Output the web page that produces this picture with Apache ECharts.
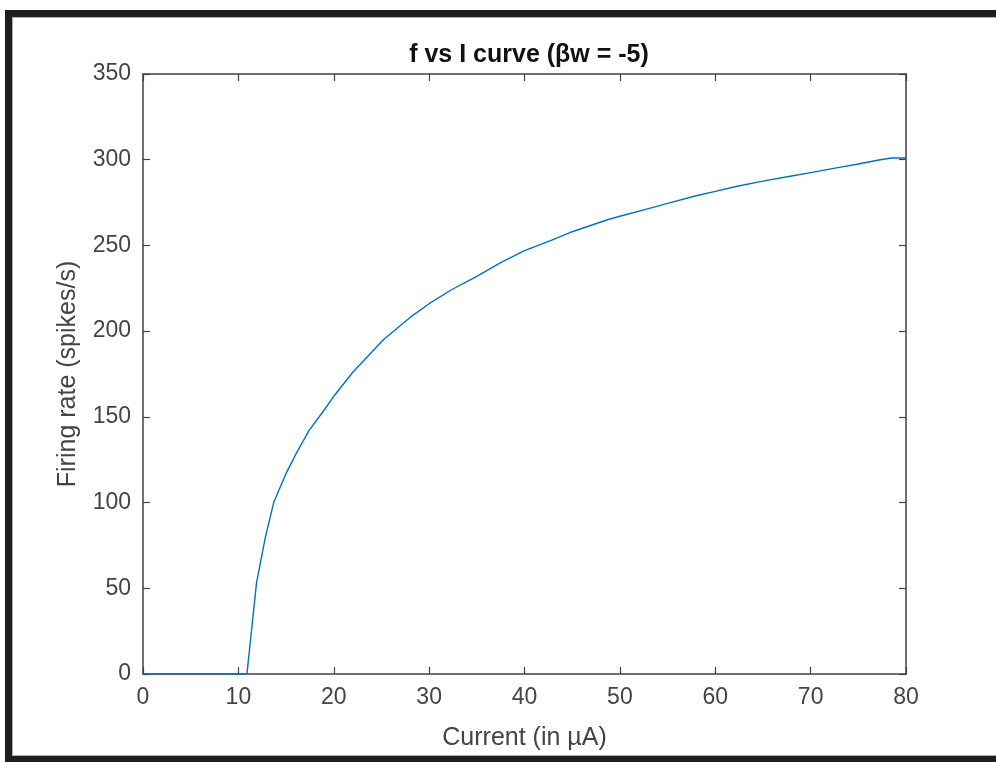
<!DOCTYPE html>
<html>
<head>
<meta charset="utf-8">
<script src="https://cdn.jsdelivr.net/npm/echarts@6/dist/echarts.min.js"></script>
<style>
html,body{margin:0;padding:0;background:#fff;}
#chart{width:996px;height:762px;}
</style>
</head>
<body>
<div id="chart"></div>
<script>
// Data
const currents = [0, 10.9, 11.9, 12.8, 13.7, 15, 16, 17.4, 19, 20, 22, 25.2, 28, 30, 32.3, 35, 37.5, 40, 42.8, 45, 48.7, 50, 53, 55, 58, 60, 62.3, 65, 68, 70, 73, 75, 77.3, 78.5, 80];
const rates    = [0, 0, 53, 79, 100, 117, 128, 142, 154, 162, 176, 195, 208, 216, 224, 232, 240, 247, 253, 258, 265, 267, 271.5, 274.5, 279, 281.5, 284.5, 287.5, 290.5, 292.5, 295.5, 297.5, 300, 301, 301];
const xTicks = [0, 10, 20, 30, 40, 50, 60, 70, 80];
const yTicks = [0, 50, 100, 150, 200, 250, 300, 350];
const titleText = 'f vs I curve (βw = -5)';
const xName = 'Current (in µA)';
const yName = 'Firing rate (spikes/s)';

const FONT = '"Liberation Sans", Arial, Helvetica, sans-serif';
const AXIS_COLOR = '#404040';
const LABEL_COLOR = '#444444';

const chart = echarts.init(document.getElementById('chart'), null, {renderer: 'canvas'});

const baseAxisLine = {show: true, onZero: false, lineStyle: {color: AXIS_COLOR, width: 1.5}};
const tick = {show: true, inside: true, length: 7, lineStyle: {color: AXIS_COLOR, width: 1.2}};

const option = {
  backgroundColor: '#ffffff',
  animation: false,
  title: {
    text: titleText,
    left: 524, top: 38, textAlign: 'center',
    textStyle: {fontFamily: FONT, fontSize: 25, fontWeight: 'bold', color: '#111111'}
  },
  grid: {left: 143, right: 90, top: 74, bottom: 88, containLabel: false},
  xAxis: [
    {
      type: 'value', min: xTicks[0], max: xTicks[xTicks.length - 1], interval: 10,
      position: 'bottom',
      name: xName, nameLocation: 'middle', nameGap: 52,
      nameTextStyle: {fontFamily: FONT, fontSize: 25, color: LABEL_COLOR},
      axisLine: baseAxisLine, axisTick: tick, splitLine: {show: false},
      axisLabel: {fontFamily: FONT, fontSize: 23, color: LABEL_COLOR, margin: 12}
    },
    {
      type: 'value', min: xTicks[0], max: xTicks[xTicks.length - 1], interval: 10,
      position: 'top',
      axisLine: baseAxisLine, axisTick: tick, splitLine: {show: false},
      axisLabel: {show: false}
    }
  ],
  yAxis: [
    {
      type: 'value', min: yTicks[0], max: yTicks[yTicks.length - 1], interval: 50,
      position: 'left',
      name: yName, nameLocation: 'middle', nameGap: 62, nameRotate: 90,
      nameTextStyle: {fontFamily: FONT, fontSize: 25, color: LABEL_COLOR},
      axisLine: baseAxisLine, axisTick: tick, splitLine: {show: false},
      axisLabel: {fontFamily: FONT, fontSize: 23, color: LABEL_COLOR, margin: 12}
    },
    {
      type: 'value', min: yTicks[0], max: yTicks[yTicks.length - 1], interval: 50,
      position: 'right',
      axisLine: baseAxisLine, axisTick: tick, splitLine: {show: false},
      axisLabel: {show: false}
    }
  ],
  series: [{
    type: 'line',
    xAxisIndex: 0, yAxisIndex: 0,
    data: currents.map((c, i) => [c, rates[i]]),
    showSymbol: false,
    smooth: false,
    lineStyle: {color: '#0072BD', width: 1.4},
    itemStyle: {color: '#0072BD'}
  }],
  graphic: [
    {type: 'rect', shape: {x: 5, y: 10, width: 991, height: 7}, style: {fill: '#1e1e1e'}, z: 100},
    {type: 'rect', shape: {x: 5, y: 10, width: 7, height: 752}, style: {fill: '#1e1e1e'}, z: 100},
    {type: 'rect', shape: {x: 5, y: 756, width: 991, height: 6}, style: {fill: '#1e1e1e'}, z: 100},
    {type: 'rect', shape: {x: 12, y: 17, width: 984, height: 1}, style: {fill: '#b0b0b0'}, z: 100},
    {type: 'rect', shape: {x: 12, y: 17, width: 1, height: 739}, style: {fill: '#b0b0b0'}, z: 100},
    {type: 'rect', shape: {x: 12, y: 755, width: 984, height: 1}, style: {fill: '#b0b0b0'}, z: 100}
  ]
};
chart.setOption(option);
</script>
</body>
</html>
